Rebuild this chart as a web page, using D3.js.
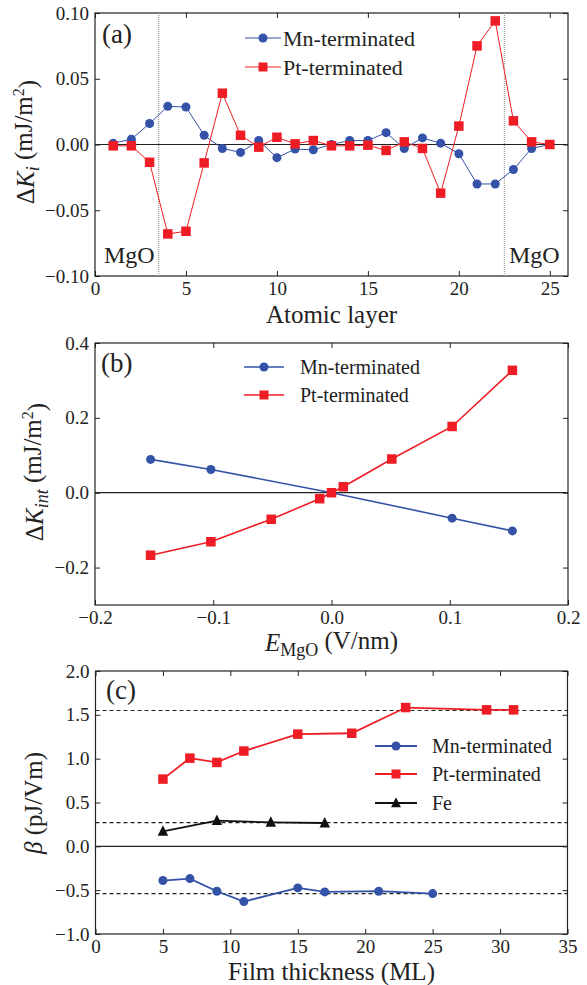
<!DOCTYPE html>
<html><head><meta charset="utf-8">
<script src="https://cdn.jsdelivr.net/npm/d3@7"></script>
<style>
html,body{margin:0;padding:0;background:#fff;}
</style></head>
<body><svg id="c" width="587" height="985"></svg>
<script>
// ---- Data ----
const layers = [1,2,3,4,5,6,7,8,9,10,11,12,13,14,15,16,17,18,19,20,21,22,23,24,25];
const mnA = [0.001,0.004,0.016,0.029,0.0285,0.007,-0.003,-0.006,0.003,-0.010,-0.0035,-0.004,0.000,0.003,0.003,0.009,-0.003,0.005,0.001,-0.007,-0.030,-0.030,-0.019,-0.003,0.000];
const ptA = [-0.001,-0.001,-0.0135,-0.068,-0.066,-0.014,0.039,0.007,-0.002,0.0055,0.0005,0.003,-0.001,-0.001,-0.0005,-0.0045,0.002,-0.003,-0.037,0.014,0.075,0.094,0.018,0.002,0.000];
const mgoEdges = [3.5, 22.5];

const fieldMn = [-0.153,-0.102,0,0.102,0.153];
const mnB = [0.089,0.062,0,-0.068,-0.102];
const fieldPt = [-0.153,-0.102,-0.051,-0.01,0,0.01,0.051,0.102,0.153];
const ptB = [-0.167,-0.131,-0.071,-0.016,0,0.016,0.090,0.177,0.327];

const thickMn = [5,7,9,11,15,17,21,25];
const mnC = [-0.39,-0.368,-0.512,-0.63,-0.474,-0.52,-0.512,-0.539];
const thickPt = [5,7,9,11,15,19,23,29,31];
const ptC = [0.767,1.006,0.957,1.087,1.28,1.29,1.583,1.557,1.557];
const thickFe = [5,9,13,17];
const feC = [0.171,0.293,0.273,0.266];
const refLines = [1.55,0.27,-0.54];

const ticksAx = [0,5,10,15,20,25];
const ticksAy = [-0.10,-0.05,0,0.05,0.10];
const ticksBx = [-0.2,-0.1,0,0.1,0.2];
const ticksBy = [-0.2,0,0.2,0.4];
const ticksCx = [0,5,10,15,20,25,30,35];
const ticksCy = [-1.0,-0.5,0,0.5,1.0,1.5,2.0];

const BLUE = "#3352a8", RED = "#ee1d25", BLACK = "#111";
const FONT = '"Liberation Serif","Times New Roman",Times,serif';

const svg = d3.select("#c");
const TF = 19;

function panel(cfg){
  const g = svg.append("g");
  const x = d3.scaleLinear().domain(cfg.xd).range([cfg.L, cfg.R]);
  const y = d3.scaleLinear().domain(cfg.yd).range([cfg.B, cfg.T]);
  const clipId = "clip"+cfg.id;
  svg.append("clipPath").attr("id",clipId).append("rect")
    .attr("x",cfg.L).attr("y",cfg.T).attr("width",cfg.R-cfg.L).attr("height",cfg.B-cfg.T);
  const mk = (ax, fmt, show) => {
    ax.tickSizeInner(-5).tickSizeOuter(0).tickPadding(show?6:0);
    if (show) ax.tickFormat(fmt); else ax.tickFormat("");
    return ax;
  };
  const axes = [
    [d3.axisBottom(x).tickValues(cfg.xt), `translate(0,${cfg.B})`, true, cfg.xf],
    [d3.axisTop(x).tickValues(cfg.xt), `translate(0,${cfg.T})`, false, cfg.xf],
    [d3.axisLeft(y).tickValues(cfg.yt), `translate(${cfg.L},0)`, true, cfg.yf],
    [d3.axisRight(y).tickValues(cfg.yt), `translate(${cfg.R},0)`, false, cfg.yf]
  ];
  axes.forEach(([ax,tr,show,fmt])=>{
    const a = g.append("g").attr("transform",tr).call(mk(ax,fmt,show));
    a.select(".domain").remove();
    a.selectAll("line").attr("stroke","#222").attr("stroke-width",1);
    a.selectAll("text").style("font-size",TF+"px").attr("fill","#222");
  });
  g.append("rect").attr("x",cfg.L).attr("y",cfg.T).attr("width",cfg.R-cfg.L).attr("height",cfg.B-cfg.T)
    .attr("fill","none").attr("stroke","#222").attr("stroke-width",1.2);
  g.append("line").attr("x1",cfg.L).attr("x2",cfg.R).attr("y1",y(0)).attr("y2",y(0))
    .attr("stroke","#222").attr("stroke-width",1.2);
  return {g,x,y,clipId};
}

function series(p, xs, ys, color, shape, lw, size){
  const pts = xs.map((v,i)=>[p.x(v), p.y(ys[i])]);
  p.g.append("path").attr("d", d3.line()(pts)).attr("fill","none")
    .attr("stroke",color).attr("stroke-width",lw).attr("clip-path",`url(#${p.clipId})`);
  marker(p.g, pts, color, shape, size);
}
function marker(g, pts, color, shape, size){
  pts.forEach(([px,py])=>{
    if (shape==="circle") g.append("circle").attr("cx",px).attr("cy",py).attr("r",size/2).attr("fill",color);
    else if (shape==="square") g.append("rect").attr("x",px-size/2).attr("y",py-size/2).attr("width",size).attr("height",size).attr("fill",color);
    else { const s=size*1.1; g.append("path").attr("d",`M${px},${py-s*0.58}L${px+s/2},${py+s*0.42}L${px-s/2},${py+s*0.42}Z`).attr("fill",color); }
  });
}
function legend(g, items, x0, x1, tx, ys, lw, size, fs){
  items.forEach((it,i)=>{
    g.append("line").attr("x1",x0).attr("x2",x1).attr("y1",ys[i]).attr("y2",ys[i]).attr("stroke",it.c).attr("stroke-width",lw);
    marker(g, [[(x0+x1)/2, ys[i]]], it.c, it.s, size);
    g.append("text").attr("x",tx).attr("y",ys[i]).attr("dy","0.35em").style("font-size",fs+"px").text(it.t);
  });
}
function richText(parent, parts, attrs, fs){
  const t = parent.append("text").style("font-size",fs+"px");
  Object.entries(attrs).forEach(([k,v])=>t.attr(k,v));
  parts.forEach(p=>{
    const ts = t.append("tspan").text(p.t);
    if (p.i) ts.style("font-style","italic");
    if (p.fs) ts.style("font-size",p.fs+"px");
    if (p.dy) ts.attr("dy",p.dy);
  });
  return t;
}

// ---- Panel (a) ----
const pa = panel({id:"a", L:95, R:568, T:13, B:276, xd:[0,26], yd:[-0.10,0.10],
  xt:ticksAx, yt:ticksAy, xf:d3.format("d"), yf:d3.format(".2f")});
mgoEdges.forEach(v=>{
  pa.g.append("line").attr("x1",pa.x(v)).attr("x2",pa.x(v)).attr("y1",13).attr("y2",276)
    .attr("stroke","#888").attr("stroke-width",1).attr("stroke-dasharray","1,1");
});
series(pa, layers, mnA, BLUE, "circle", 1.0, 9);
series(pa, layers, ptA, RED, "square", 1.0, 9.5);
pa.g.append("text").attr("x",102).attr("y",43).style("font-size","27px").text("(a)");
pa.g.append("text").attr("x",104).attr("y",263).style("font-size","24px").text("MgO");
pa.g.append("text").attr("x",509).attr("y",263).style("font-size","24px").text("MgO");
legend(pa.g, [{c:BLUE,s:"circle",t:"Mn-terminated"},{c:RED,s:"square",t:"Pt-terminated"}],
  245, 281, 283, [38,67], 1.0, 9, 22);
svg.append("text").attr("x",331.5).attr("y",323).attr("text-anchor","middle").style("font-size","25px").text("Atomic layer");
richText(svg, [{t:"Δ"},{t:"K",i:true},{t:"i",i:true,fs:18,dy:"0.3em"},{t:" (mJ/m",dy:"-0.3em"},{t:"2",fs:16,dy:"-0.5em"},{t:")",dy:"0.5em"}],
  {transform:"translate(34,142) rotate(-90)", "text-anchor":"middle"}, 25);

// ---- Panel (b) ----
const pb = panel({id:"b", L:95, R:568, T:343, B:605, xd:[-0.2,0.2], yd:[-0.3,0.4],
  xt:ticksBx, yt:ticksBy, xf:d3.format(".1f"), yf:d3.format(".1f")});
series(pb, fieldMn, mnB, BLUE, "circle", 1.6, 9);
series(pb, fieldPt, ptB, RED, "square", 1.6, 9.5);
pb.g.append("text").attr("x",101).attr("y",372).style("font-size","27px").text("(b)");
legend(pb.g, [{c:BLUE,s:"circle",t:"Mn-terminated"},{c:RED,s:"square",t:"Pt-terminated"}],
  244, 284, 300, [367,395], 1.6, 9, 20);
richText(svg, [{t:"E",i:true},{t:"MgO",fs:18,dy:"0.3em"},{t:" (V/nm)",dy:"-0.3em"}],
  {x:331.5, y:651, "text-anchor":"middle"}, 25);
richText(svg, [{t:"Δ"},{t:"K",i:true},{t:"int",i:true,fs:18,dy:"0.3em"},{t:" (mJ/m",dy:"-0.3em"},{t:"2",fs:16,dy:"-0.5em"},{t:")",dy:"0.5em"}],
  {transform:"translate(43,472) rotate(-90)", "text-anchor":"middle"}, 25);

// ---- Panel (c) ----
const pc = panel({id:"c", L:95.5, R:567.5, T:671, B:934, xd:[0,35], yd:[-1,2],
  xt:ticksCx, yt:ticksCy, xf:d3.format("d"), yf:d3.format(".1f")});
refLines.forEach(v=>{
  pc.g.append("line").attr("x1",95.5).attr("x2",567.5).attr("y1",pc.y(v)).attr("y2",pc.y(v))
    .attr("stroke","#222").attr("stroke-width",1.1).attr("stroke-dasharray","4,3");
});
series(pc, thickMn, mnC, BLUE, "circle", 1.8, 9);
series(pc, thickPt, ptC, RED, "square", 1.8, 9.5);
series(pc, thickFe, feC, BLACK, "tri", 1.8, 9.5);
pc.g.append("text").attr("x",106).attr("y",699).style("font-size","27px").text("(c)");
legend(pc.g, [{c:BLUE,s:"circle",t:"Mn-terminated"},{c:RED,s:"square",t:"Pt-terminated"},{c:BLACK,s:"tri",t:"Fe"}],
  375, 417, 432, [746,774,803], 1.8, 9, 20);
svg.append("text").attr("x",331.5).attr("y",980).attr("text-anchor","middle").style("font-size","25px").text("Film thickness (ML)");
richText(svg, [{t:"β",i:true},{t:" (pJ/Vm)"}],
  {transform:"translate(42,803) rotate(-90)", "text-anchor":"middle"}, 25);

// apply serif font to all texts
svg.selectAll("text").style("font-family", FONT).attr("fill","#222");
svg.selectAll("g").attr("font-family", null);
</script></body></html>
